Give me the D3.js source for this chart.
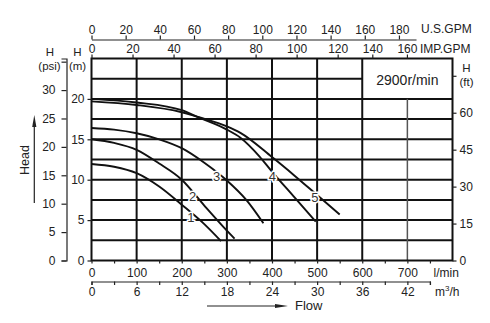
<!DOCTYPE html>
<html>
<head>
<meta charset="utf-8">
<script src="https://cdn.jsdelivr.net/npm/d3@7"></script>
<style>
  body { margin: 0; background: #fff; }
  svg text { font-family: "Liberation Sans", Arial, sans-serif; fill: #222; }
</style>
</head>
<body>
<svg id="chart" width="490" height="323"></svg>
<script>
// Pump performance curves (head vs. flow), 2900 r/min

// Curve data: flow in l/min, head in m
const flow1 = [0, 50, 100, 150, 200, 250, 287];
const head1 = [11.95, 11.6, 10.8, 9.15, 6.9, 4.5, 2.4];
const flow2 = [0, 50, 100, 150, 200, 250, 300, 317];
const head2 = [15.0, 14.55, 13.7, 12.0, 10.0, 6.8, 3.7, 2.7];
const flow3 = [0, 50, 100, 150, 200, 250, 300, 343, 381];
const head3 = [16.4, 16.2, 15.75, 15.0, 13.9, 12.1, 9.9, 7.5, 4.6];
const flow4 = [0, 100, 200, 240, 300, 330, 372, 400, 450, 497];
const head4 = [20.0, 19.55, 18.6, 17.65, 16.2, 15.2, 12.9, 11.0, 7.8, 4.8];
const flow5 = [0, 100, 200, 240, 300, 330, 400, 450, 500, 550];
const head5 = [19.7, 19.25, 18.35, 17.7, 16.6, 15.8, 12.8, 10.5, 8.1, 5.7];

const curveNames = ["1", "2", "3", "4", "5"];
const curveFlows = [flow1, flow2, flow3, flow4, flow5];
const curveHeads = [head1, head2, head3, head4, head5];
const labelFlow = [220, 224, 277, 401, 495];   // flow at which each curve number sits

// Axis tick values
const flowTicks = [0, 100, 200, 300, 400, 500, 600, 700];          // l/min
const cubicTicks = [0, 6, 12, 18, 24, 30, 36, 42];                  // m³/h
const usGpmTicks = [0, 20, 40, 60, 80, 100, 120, 140, 160, 180];
const impGpmTicks = [0, 20, 40, 60, 80, 100, 120, 140, 160];
const headMTicks = [0, 5, 10, 15, 20];
const headPsiTicks = [0, 5, 10, 15, 20, 25, 30, 35];
const headFtTicks = [0, 15, 30, 45, 60, 75];
const speedText = "2900r/min";

// Unit conversions
const L_PER_USGAL = 3.785, L_PER_IMPGAL = 4.546, M_PER_PSI = 0.70307, M_PER_FT = 0.3048;

const svg = d3.select("#chart");

const x = d3.scaleLinear().domain([0, 800]).range([91.5, 452.5]);
const y = d3.scaleLinear().domain([0, 25]).range([260.5, 58.5]);

// Caption box in the upper-right corner (flow 600–800, head 20–25)
const boxFlow = [600, 800], boxHead = [20, 25];

// ---- grid ----
const grid = svg.append("g").attr("stroke", "#111").attr("stroke-width", 2);
d3.range(2.5, 25, 2.5).forEach(h => {
  grid.append("line")
    .attr("x1", x(0)).attr("x2", x(h > boxHead[0] ? boxFlow[0] : 800))
    .attr("y1", y(h)).attr("y2", y(h));
});
d3.range(100, 800, 100).forEach(q => {
  grid.append("line")
    .attr("x1", x(q)).attr("x2", x(q))
    .attr("y1", y(0)).attr("y2", y(q > boxFlow[0] ? boxHead[0] : 25))
    .attr("stroke", q > boxFlow[0] ? "#555" : null)
    .attr("stroke-width", q > boxFlow[0] ? 1.5 : null);
});
svg.append("rect")
  .attr("x", x(0)).attr("y", y(25))
  .attr("width", x(800) - x(0)).attr("height", y(0) - y(25))
  .attr("fill", "none").attr("stroke", "#111").attr("stroke-width", 2);

svg.append("text")
  .attr("x", x((boxFlow[0] + boxFlow[1]) / 2)).attr("y", y((boxHead[0] + boxHead[1]) / 2) + 1)
  .attr("text-anchor", "middle").attr("dominant-baseline", "central")
  .attr("font-size", 14).text(speedText);

// ---- curves ----
const line = d3.line().x(d => x(d[0])).y(d => y(d[1])).curve(d3.curveMonotoneX);
curveNames.forEach((name, i) => {
  const pts = curveFlows[i].map((q, j) => [q, curveHeads[i][j]]);
  svg.append("path").datum(pts)
    .attr("d", line).attr("fill", "none")
    .attr("stroke", "#111").attr("stroke-width", 1.9);
});
curveNames.forEach((name, i) => {
  const q = labelFlow[i];
  const h = d3.scaleLinear().domain(curveFlows[i]).range(curveHeads[i])(q);
  svg.append("text")
    .attr("x", x(q)).attr("y", y(h) + 4.5)
    .attr("text-anchor", "middle").attr("dominant-baseline", "central")
    .attr("font-size", 13)
    .attr("stroke", "#fff").attr("stroke-width", 3).attr("paint-order", "stroke")
    .style("fill", "#333")
    .text(name);
});

// ---- axes ----
function style(g) {
  g.selectAll("text").attr("font-size", 12).style("font-family", "'Liberation Sans', Arial, sans-serif").style("fill", "#222");
  g.selectAll("line, path").attr("stroke", "#222").attr("stroke-width", 1.2);
}

// Head in m (left of plot)
svg.append("g").attr("transform", `translate(${x(0)},0)`)
  .call(d3.axisLeft(y).tickValues(headMTicks).tickSize(4).tickPadding(3))
  .call(g => g.select(".domain").remove()).call(style);

// Head in psi
const yPsi = d3.scaleLinear().domain([0, 25 / M_PER_PSI]).range(y.range());
svg.append("g").attr("transform", "translate(66.5,0)")
  .call(d3.axisLeft(yPsi).tickValues(headPsiTicks).tickSize(5).tickSizeOuter(5).tickPadding(6)
    .tickFormat(d => d < 35 ? d : ""))
  .call(style);

// Head in ft (right)
const yFt = d3.scaleLinear().domain([0, 25 / M_PER_FT]).range(y.range());
svg.append("g").attr("transform", `translate(${x(800)},0)`)
  .call(d3.axisRight(yFt).tickValues(headFtTicks).tickSize(4).tickPadding(3)
    .tickFormat(d => d < 75 ? d : ""))
  .call(g => g.select(".domain").remove()).call(style);

// Flow in l/min (bottom of plot)
svg.append("g").attr("transform", `translate(0,${y(0)})`)
  .call(d3.axisBottom(x).tickValues(d3.range(0, 800, 50)).tickSize(3).tickPadding(5)
    .tickFormat(d => flowTicks.includes(d) ? d : ""))
  .call(g => g.select(".domain").remove()).call(style);

// Flow in m³/h
const xCubic = d3.scaleLinear().domain([0, 45]).range([x(0), x(750)]);
svg.append("g").attr("transform", "translate(0,281.5)")
  .call(d3.axisBottom(xCubic).tickValues(d3.range(0, 46, 3)).tickSize(3.5).tickSizeOuter(3.5).tickPadding(2.5)
    .tickFormat(d => cubicTicks.includes(d) ? d : ""))
  .call(style);

// Flow in U.S. gallons per minute
const xUs = d3.scaleLinear().domain([0, 190]).range([x(0), x(190 * L_PER_USGAL)]);
svg.append("g").attr("transform", "translate(0,39.5)")
  .call(d3.axisTop(xUs).tickValues(usGpmTicks).tickSize(4).tickSizeOuter(0).tickPadding(2))
  .call(style);

// Flow in imperial gallons per minute (upper end squeezed to clear the unit caption)
const xImp = d3.scaleLinear().domain([0, 120, 160])
  .range([x(0), x(120 * L_PER_IMPGAL), x(699)]);
svg.append("g").attr("transform", `translate(0,${y(25)})`)
  .call(d3.axisTop(xImp).tickValues(impGpmTicks).tickSize(4).tickPadding(2))
  .call(g => g.select(".domain").remove()).call(style);

// ---- unit captions ----
const cap = (tx, ty, s, anchor = "middle", fs = 12) => svg.append("text")
  .attr("x", tx).attr("y", ty).attr("text-anchor", anchor)
  .attr("dominant-baseline", "central").attr("font-size", fs).text(s);
cap(421, 29, "U.S.GPM", "start");
cap(420, 48.5, "IMP.GPM", "start");
cap(50, 52, "H", "middle", 11.5);
cap(49.5, 65.5, "(psi)", "middle", 11.5);
cap(77.5, 52, "H", "middle", 11.5);
cap(77.5, 65.5, "(m)", "middle", 11.5);
cap(466.5, 67.5, "H", "middle", 11.5);
cap(466.5, 81.5, "(ft)", "middle", 11.5);
cap(433.5, 273, "l/min", "start");
const m3 = cap(435, 292, "m", "start");
m3.append("tspan").attr("font-size", 8).attr("dy", -4).text("3");
m3.append("tspan").attr("dy", 4).text("/h");

// ---- Head / Flow arrows ----
svg.append("line").attr("x1", 34.3).attr("x2", 34.3).attr("y1", 203).attr("y2", 124)
  .attr("stroke", "#222").attr("stroke-width", 1.2);
svg.append("path").attr("d", "M34.3,115 L32.2,127 L36.4,127 Z").attr("fill", "#222");
svg.append("text").attr("transform", "translate(25,160) rotate(-90)")
  .attr("text-anchor", "middle").attr("dominant-baseline", "central")
  .attr("font-size", 12.5).text("Head");

svg.append("line").attr("x1", 207).attr("x2", 278).attr("y1", 306).attr("y2", 306)
  .attr("stroke", "#222").attr("stroke-width", 1.2);
svg.append("path").attr("d", "M288,306 L275,304 L275,308 Z").attr("fill", "#222");
svg.append("text").attr("x", 295).attr("y", 305.5)
  .attr("dominant-baseline", "central").attr("font-size", 13).text("Flow");
</script>
</body>
</html>
